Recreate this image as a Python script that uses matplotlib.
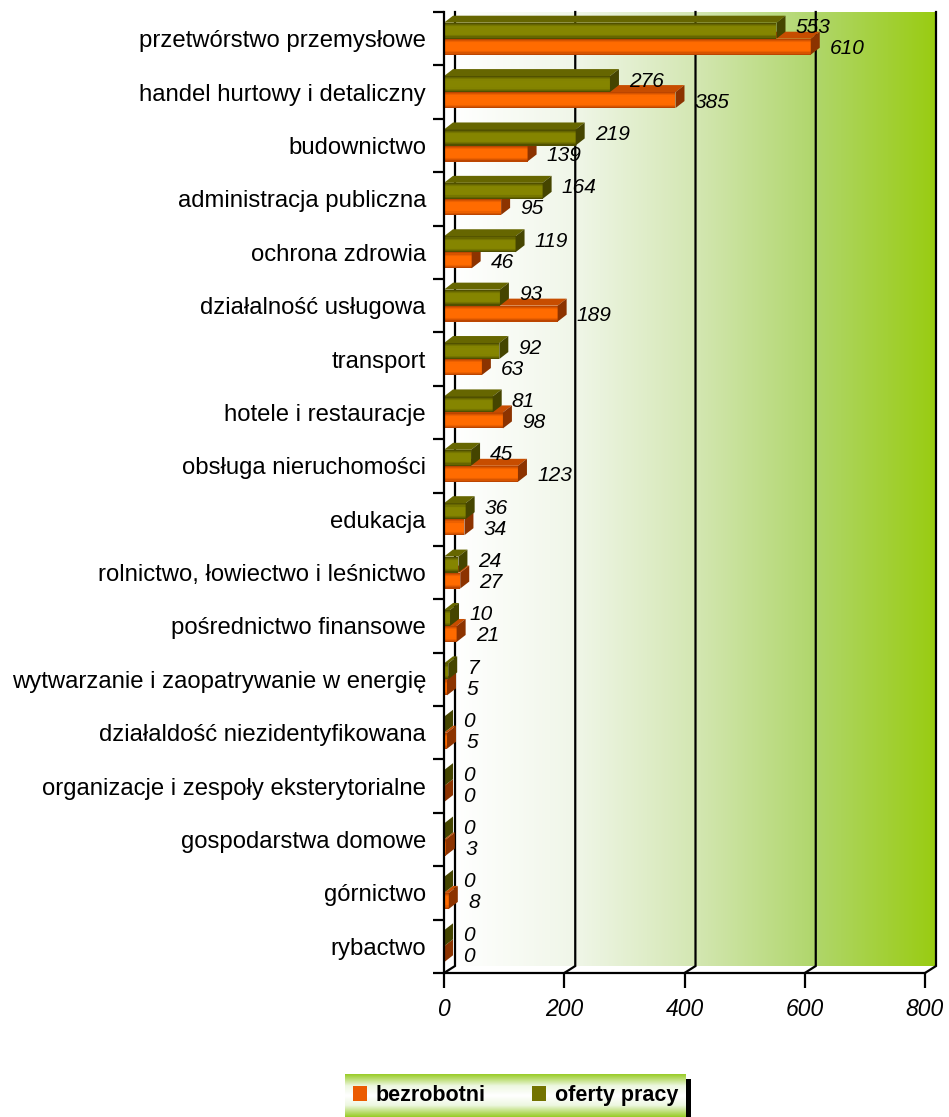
import numpy as np
import matplotlib
matplotlib.use('Agg')
import matplotlib.pyplot as plt
from matplotlib.colors import LinearSegmentedColormap
from matplotlib.patches import Polygon, Patch, Rectangle

categories = [
    "przetwórstwo przemysłowe",
    "handel hurtowy i detaliczny",
    "budownictwo",
    "administracja publiczna",
    "ochrona zdrowia",
    "działalność usługowa",
    "transport",
    "hotele i restauracje",
    "obsługa nieruchomości",
    "edukacja",
    "rolnictwo, łowiectwo i leśnictwo",
    "pośrednictwo finansowe",
    "wytwarzanie i zaopatrywanie w energię",
    "działaldość niezidentyfikowana",
    "organizacje i zespoły eksterytorialne",
    "gospodarstwa domowe",
    "górnictwo",
    "rybactwo",
]
oferty_pracy = [553, 276, 219, 164, 119, 93, 92, 81, 45, 36, 24, 10, 7, 0, 0, 0, 0, 0]
bezrobotni = [610, 385, 139, 95, 46, 189, 63, 98, 123, 34, 27, 21, 5, 5, 0, 3, 8, 0]
xticks = [0, 200, 400, 600, 800]
legend_labels = ["bezrobotni", "oferty pracy"]

plt.rcParams['font.family'] = ['Liberation Sans', 'DejaVu Sans']

W, H = 949, 1117
fig = plt.figure(figsize=(W / 100, H / 100), dpi=100)

n = len(categories)
ypos = np.arange(n)

# pixel -> data conversions
PX_X = 800 / 481.0
PX_Y = n / 961.0
wall_dx, wall_dy = 11 * PX_X, 7 * PX_Y
bar_dx, bar_dy = 9 * PX_X, 7 * PX_Y
half_h = 8 * PX_Y
sep = 8 * PX_Y

ax = fig.add_axes([444 / W, 1 - 973 / H, (936 - 444) / W, (973 - 12) / H])

# back wall gradient
wall_cmap = LinearSegmentedColormap.from_list(
    "wall",
    [(0.0, (1.0, 1.0, 1.0)), (0.25, (0.94, 0.965, 0.91)), (0.5, (0.83, 0.905, 0.70)),
     (0.75, (0.69, 0.84, 0.42)), (1.0, (0.60, 0.80, 0.07))])
grad = np.linspace(0, 1, 256).reshape(1, -1)
ax.imshow(grad, cmap=wall_cmap, extent=(wall_dx, 800 + wall_dx, n - 0.5 - wall_dy, -0.5),
          aspect='auto', zorder=0, interpolation='bilinear')

# gridlines on back wall + connectors to floor front
for v in [0] + xticks[1:]:
    ax.plot([v + wall_dx, v + wall_dx, v], [-0.5, n - 0.5 - wall_dy, n - 0.5],
            color='black', lw=1.6, zorder=1, clip_on=False, solid_joinstyle='miter')


def blend(c1, c2, t):
    return tuple(a + (b - a) * t for a, b in zip(c1, c2))


def draw_bar(center, v, edge_col, mid_col, top_col, side_col, z):
    ns = 14
    hs = 2 * half_h / ns
    for k in range(ns):
        t = (k + 0.5) / ns
        w = 1 - (2 * t - 1) ** 2
        col = blend(edge_col, mid_col, min(1, w * 1.3))
        yc = center - half_h + (k + 0.5) * hs
        ax.barh(yc, v, height=hs * 1.05, left=0, color=col, edgecolor='none', zorder=z)
    top = Polygon([(0, center - half_h), (v, center - half_h),
                   (v + bar_dx, center - half_h - bar_dy), (bar_dx, center - half_h - bar_dy)],
                  closed=True, facecolor=top_col, edgecolor='none', zorder=z)
    side = Polygon([(v, center - half_h), (v, center + half_h),
                    (v + bar_dx, center + half_h - bar_dy), (v + bar_dx, center - half_h - bar_dy)],
                   closed=True, facecolor=side_col, edgecolor='none', zorder=z)
    ax.add_patch(top)
    ax.add_patch(side)


orange_edge, orange_mid = (0.68, 0.24, 0.0), (1.0, 0.42, 0.0)
orange_top, orange_side = (0.78, 0.30, 0.0), (0.55, 0.20, 0.0)
green_edge, green_mid = (0.27, 0.27, 0.0), (0.52, 0.52, 0.0)
green_top, green_side = (0.40, 0.40, 0.0), (0.27, 0.27, 0.0)

label_dx = 32
for i in range(n):
    c_or = ypos[i] + sep
    c_gr = ypos[i] - sep
    draw_bar(c_or, bezrobotni[i], orange_edge, orange_mid, orange_top, orange_side, 3 + 2 * i)
    draw_bar(c_gr, oferty_pracy[i], green_edge, green_mid, green_top, green_side, 4 + 2 * i)
    ax.text(oferty_pracy[i] + label_dx, ypos[i] - 11 * PX_Y, str(oferty_pracy[i]), fontsize=15,
            style='italic', ha='left', va='center', zorder=100)
    ax.text(bezrobotni[i] + label_dx, ypos[i] + 10 * PX_Y, str(bezrobotni[i]), fontsize=15,
            style='italic', ha='left', va='center', zorder=100)

ax.set_xlim(0, 492 * PX_X)
ax.set_ylim(n - 0.5, -0.5)

for s in ['top', 'right']:
    ax.spines[s].set_visible(False)
ax.spines['left'].set_linewidth(1.6)
ax.spines['left'].set_zorder(50)
ax.spines['bottom'].set_linewidth(1.6)
ax.spines['bottom'].set_bounds(0, 800)

ax.set_xticks(xticks)
ax.set_xticklabels([str(t) for t in xticks], fontsize=16.5, style='italic')
ax.tick_params(axis='x', direction='out', length=11, width=1.6, pad=7)

ax.set_yticks(ypos)
ax.set_yticklabels(categories, fontsize=17.2)
ax.tick_params(axis='y', which='major', length=0, pad=13)
ax.set_yticks(np.arange(n + 1) - 0.5, minor=True)
ax.tick_params(axis='y', which='minor', length=8, width=1.6)

# legend
lax = fig.add_axes([345 / W, 0, (686 - 345) / W, 43 / H])
vg = np.concatenate([np.linspace(0, 1, 64), np.linspace(1, 0, 64)]).reshape(-1, 1)
leg_cmap = LinearSegmentedColormap.from_list(
    "leg", [(0.0, (0.60, 0.80, 0.15)), (0.55, (0.93, 0.97, 0.88)), (1.0, (1, 1, 1))])
lax.imshow(vg, cmap=leg_cmap, aspect='auto', extent=(0, 1, 0, 1), interpolation='bilinear')
lax.set_xlim(0, 1)
lax.set_ylim(0, 1)
lax.axis('off')
fig.patches.append(Rectangle((686 / W, 0), 5 / W, 38 / H, transform=fig.transFigure,
                             facecolor='black', edgecolor='none'))
handles = [Patch(facecolor=(0.92, 0.36, 0.0), edgecolor='none', label=legend_labels[0]),
           Patch(facecolor=(0.45, 0.45, 0.0), edgecolor='none', label=legend_labels[1])]
lax.legend(handles=handles, loc='center', ncol=2, frameon=False,
           prop={'size': 15.5, 'weight': 'bold'}, handlelength=0.65, handleheight=0.65,
           columnspacing=2.2, handletextpad=0.4, bbox_to_anchor=(0.5, 0.5))

fig.savefig('out.png', dpi=100)
